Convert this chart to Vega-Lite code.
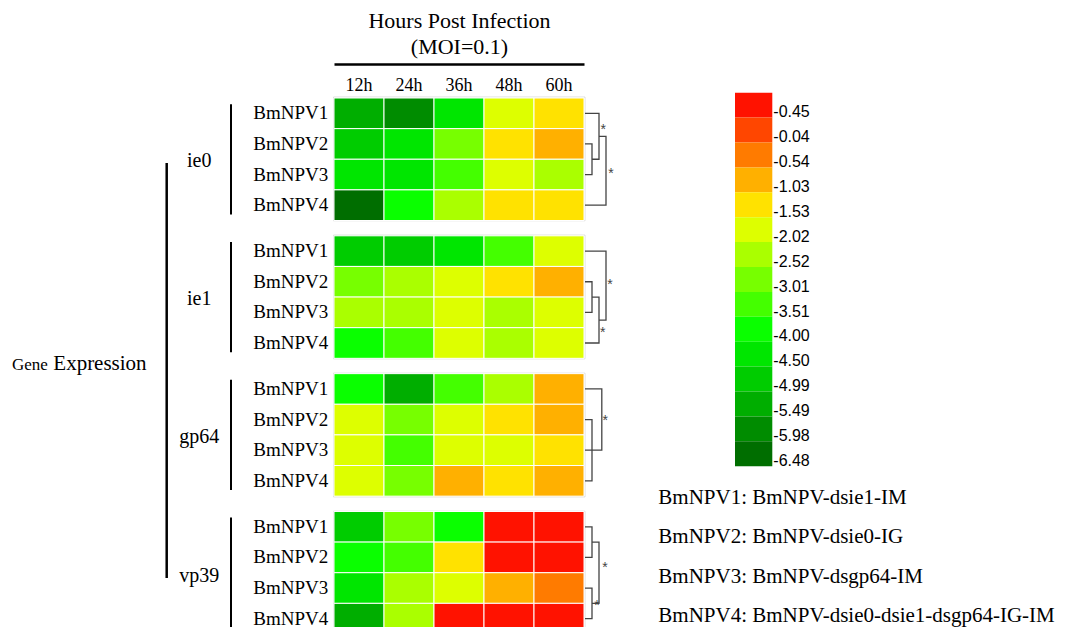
{
  "$schema": "https://vega.github.io/schema/vega-lite/v6.json",
  "autosize": {"type": "none"},
  "width": 250,
  "height": 529,
  "padding": {"left": 334, "top": 98, "right": 487, "bottom": 0},
  "background": "white",
  "config": {"view": {"stroke": null}, "font": "Liberation Serif", "axis": {"labelColor": "black", "titleColor": "black"}},
  "datasets": {
    "cells": [
      {"gene": "ie0", "strain": "BmNPV1", "hour": "12h", "level": "-5.49"},
      {"gene": "ie0", "strain": "BmNPV1", "hour": "24h", "level": "-5.98"},
      {"gene": "ie0", "strain": "BmNPV1", "hour": "36h", "level": "-4.50"},
      {"gene": "ie0", "strain": "BmNPV1", "hour": "48h", "level": "-2.02"},
      {"gene": "ie0", "strain": "BmNPV1", "hour": "60h", "level": "-1.53"},
      {"gene": "ie0", "strain": "BmNPV2", "hour": "12h", "level": "-4.99"},
      {"gene": "ie0", "strain": "BmNPV2", "hour": "24h", "level": "-4.50"},
      {"gene": "ie0", "strain": "BmNPV2", "hour": "36h", "level": "-3.01"},
      {"gene": "ie0", "strain": "BmNPV2", "hour": "48h", "level": "-1.53"},
      {"gene": "ie0", "strain": "BmNPV2", "hour": "60h", "level": "-1.03"},
      {"gene": "ie0", "strain": "BmNPV3", "hour": "12h", "level": "-4.50"},
      {"gene": "ie0", "strain": "BmNPV3", "hour": "24h", "level": "-4.50"},
      {"gene": "ie0", "strain": "BmNPV3", "hour": "36h", "level": "-3.51"},
      {"gene": "ie0", "strain": "BmNPV3", "hour": "48h", "level": "-2.02"},
      {"gene": "ie0", "strain": "BmNPV3", "hour": "60h", "level": "-2.52"},
      {"gene": "ie0", "strain": "BmNPV4", "hour": "12h", "level": "-6.48"},
      {"gene": "ie0", "strain": "BmNPV4", "hour": "24h", "level": "-4.00"},
      {"gene": "ie0", "strain": "BmNPV4", "hour": "36h", "level": "-2.52"},
      {"gene": "ie0", "strain": "BmNPV4", "hour": "48h", "level": "-1.53"},
      {"gene": "ie0", "strain": "BmNPV4", "hour": "60h", "level": "-1.53"},
      {"gene": "ie1", "strain": "BmNPV1", "hour": "12h", "level": "-4.99"},
      {"gene": "ie1", "strain": "BmNPV1", "hour": "24h", "level": "-4.99"},
      {"gene": "ie1", "strain": "BmNPV1", "hour": "36h", "level": "-4.50"},
      {"gene": "ie1", "strain": "BmNPV1", "hour": "48h", "level": "-3.51"},
      {"gene": "ie1", "strain": "BmNPV1", "hour": "60h", "level": "-2.02"},
      {"gene": "ie1", "strain": "BmNPV2", "hour": "12h", "level": "-3.01"},
      {"gene": "ie1", "strain": "BmNPV2", "hour": "24h", "level": "-2.52"},
      {"gene": "ie1", "strain": "BmNPV2", "hour": "36h", "level": "-2.02"},
      {"gene": "ie1", "strain": "BmNPV2", "hour": "48h", "level": "-1.53"},
      {"gene": "ie1", "strain": "BmNPV2", "hour": "60h", "level": "-1.03"},
      {"gene": "ie1", "strain": "BmNPV3", "hour": "12h", "level": "-2.52"},
      {"gene": "ie1", "strain": "BmNPV3", "hour": "24h", "level": "-2.52"},
      {"gene": "ie1", "strain": "BmNPV3", "hour": "36h", "level": "-2.02"},
      {"gene": "ie1", "strain": "BmNPV3", "hour": "48h", "level": "-2.52"},
      {"gene": "ie1", "strain": "BmNPV3", "hour": "60h", "level": "-2.02"},
      {"gene": "ie1", "strain": "BmNPV4", "hour": "12h", "level": "-4.00"},
      {"gene": "ie1", "strain": "BmNPV4", "hour": "24h", "level": "-3.51"},
      {"gene": "ie1", "strain": "BmNPV4", "hour": "36h", "level": "-2.02"},
      {"gene": "ie1", "strain": "BmNPV4", "hour": "48h", "level": "-2.52"},
      {"gene": "ie1", "strain": "BmNPV4", "hour": "60h", "level": "-2.02"},
      {"gene": "gp64", "strain": "BmNPV1", "hour": "12h", "level": "-4.00"},
      {"gene": "gp64", "strain": "BmNPV1", "hour": "24h", "level": "-5.49"},
      {"gene": "gp64", "strain": "BmNPV1", "hour": "36h", "level": "-3.51"},
      {"gene": "gp64", "strain": "BmNPV1", "hour": "48h", "level": "-2.52"},
      {"gene": "gp64", "strain": "BmNPV1", "hour": "60h", "level": "-1.03"},
      {"gene": "gp64", "strain": "BmNPV2", "hour": "12h", "level": "-2.02"},
      {"gene": "gp64", "strain": "BmNPV2", "hour": "24h", "level": "-3.01"},
      {"gene": "gp64", "strain": "BmNPV2", "hour": "36h", "level": "-2.02"},
      {"gene": "gp64", "strain": "BmNPV2", "hour": "48h", "level": "-1.53"},
      {"gene": "gp64", "strain": "BmNPV2", "hour": "60h", "level": "-1.03"},
      {"gene": "gp64", "strain": "BmNPV3", "hour": "12h", "level": "-2.02"},
      {"gene": "gp64", "strain": "BmNPV3", "hour": "24h", "level": "-3.51"},
      {"gene": "gp64", "strain": "BmNPV3", "hour": "36h", "level": "-2.02"},
      {"gene": "gp64", "strain": "BmNPV3", "hour": "48h", "level": "-2.02"},
      {"gene": "gp64", "strain": "BmNPV3", "hour": "60h", "level": "-1.53"},
      {"gene": "gp64", "strain": "BmNPV4", "hour": "12h", "level": "-2.02"},
      {"gene": "gp64", "strain": "BmNPV4", "hour": "24h", "level": "-3.01"},
      {"gene": "gp64", "strain": "BmNPV4", "hour": "36h", "level": "-1.03"},
      {"gene": "gp64", "strain": "BmNPV4", "hour": "48h", "level": "-1.53"},
      {"gene": "gp64", "strain": "BmNPV4", "hour": "60h", "level": "-1.03"},
      {"gene": "vp39", "strain": "BmNPV1", "hour": "12h", "level": "-4.99"},
      {"gene": "vp39", "strain": "BmNPV1", "hour": "24h", "level": "-3.01"},
      {"gene": "vp39", "strain": "BmNPV1", "hour": "36h", "level": "-4.00"},
      {"gene": "vp39", "strain": "BmNPV1", "hour": "48h", "level": "-0.45"},
      {"gene": "vp39", "strain": "BmNPV1", "hour": "60h", "level": "-0.45"},
      {"gene": "vp39", "strain": "BmNPV2", "hour": "12h", "level": "-4.00"},
      {"gene": "vp39", "strain": "BmNPV2", "hour": "24h", "level": "-3.51"},
      {"gene": "vp39", "strain": "BmNPV2", "hour": "36h", "level": "-1.53"},
      {"gene": "vp39", "strain": "BmNPV2", "hour": "48h", "level": "-0.45"},
      {"gene": "vp39", "strain": "BmNPV2", "hour": "60h", "level": "-0.45"},
      {"gene": "vp39", "strain": "BmNPV3", "hour": "12h", "level": "-4.50"},
      {"gene": "vp39", "strain": "BmNPV3", "hour": "24h", "level": "-2.52"},
      {"gene": "vp39", "strain": "BmNPV3", "hour": "36h", "level": "-2.02"},
      {"gene": "vp39", "strain": "BmNPV3", "hour": "48h", "level": "-1.03"},
      {"gene": "vp39", "strain": "BmNPV3", "hour": "60h", "level": "-0.54"},
      {"gene": "vp39", "strain": "BmNPV4", "hour": "12h", "level": "-5.49"},
      {"gene": "vp39", "strain": "BmNPV4", "hour": "24h", "level": "-2.52"},
      {"gene": "vp39", "strain": "BmNPV4", "hour": "36h", "level": "-0.45"},
      {"gene": "vp39", "strain": "BmNPV4", "hour": "48h", "level": "-0.45"},
      {"gene": "vp39", "strain": "BmNPV4", "hour": "60h", "level": "-0.45"}
    ],
    "levels": [
      {"level": "-0.45"}, {"level": "-0.04"}, {"level": "-0.54"}, {"level": "-1.03"}, {"level": "-1.53"},
      {"level": "-2.02"}, {"level": "-2.52"}, {"level": "-3.01"}, {"level": "-3.51"}, {"level": "-4.00"},
      {"level": "-4.50"}, {"level": "-4.99"}, {"level": "-5.49"}, {"level": "-5.98"}, {"level": "-6.48"}
    ],
    "genes": [{"gene": "ie0"}, {"gene": "ie1"}, {"gene": "gp64"}, {"gene": "vp39"}],
    "dendro": [
      {"gene": "ie0", "seg": "ie0a", "ord": 1, "h": 0, "pos": 1.5},
      {"gene": "ie0", "seg": "ie0a", "ord": 2, "h": 1, "pos": 1.5},
      {"gene": "ie0", "seg": "ie0a", "ord": 3, "h": 1, "pos": 2.5},
      {"gene": "ie0", "seg": "ie0a", "ord": 4, "h": 0, "pos": 2.5},
      {"gene": "ie0", "seg": "ie0b", "ord": 1, "h": 0, "pos": 0.5},
      {"gene": "ie0", "seg": "ie0b", "ord": 2, "h": 2, "pos": 0.5},
      {"gene": "ie0", "seg": "ie0b", "ord": 3, "h": 2, "pos": 2.0},
      {"gene": "ie0", "seg": "ie0b", "ord": 4, "h": 1, "pos": 2.0},
      {"gene": "ie0", "seg": "ie0c", "ord": 1, "h": 2, "pos": 1.25},
      {"gene": "ie0", "seg": "ie0c", "ord": 2, "h": 3, "pos": 1.25},
      {"gene": "ie0", "seg": "ie0c", "ord": 3, "h": 3, "pos": 3.5},
      {"gene": "ie0", "seg": "ie0c", "ord": 4, "h": 0, "pos": 3.5},
      {"gene": "ie1", "seg": "ie1a", "ord": 1, "h": 0, "pos": 1.5},
      {"gene": "ie1", "seg": "ie1a", "ord": 2, "h": 1, "pos": 1.5},
      {"gene": "ie1", "seg": "ie1a", "ord": 3, "h": 1, "pos": 2.5},
      {"gene": "ie1", "seg": "ie1a", "ord": 4, "h": 0, "pos": 2.5},
      {"gene": "ie1", "seg": "ie1b", "ord": 1, "h": 1, "pos": 2.0},
      {"gene": "ie1", "seg": "ie1b", "ord": 2, "h": 2, "pos": 2.0},
      {"gene": "ie1", "seg": "ie1b", "ord": 3, "h": 2, "pos": 3.5},
      {"gene": "ie1", "seg": "ie1b", "ord": 4, "h": 0, "pos": 3.5},
      {"gene": "ie1", "seg": "ie1c", "ord": 1, "h": 0, "pos": 0.5},
      {"gene": "ie1", "seg": "ie1c", "ord": 2, "h": 3, "pos": 0.5},
      {"gene": "ie1", "seg": "ie1c", "ord": 3, "h": 3, "pos": 2.75},
      {"gene": "ie1", "seg": "ie1c", "ord": 4, "h": 2, "pos": 2.75},
      {"gene": "gp64", "seg": "gp64a", "ord": 1, "h": 0, "pos": 1.5},
      {"gene": "gp64", "seg": "gp64a", "ord": 2, "h": 1, "pos": 1.5},
      {"gene": "gp64", "seg": "gp64a", "ord": 3, "h": 1, "pos": 3.5},
      {"gene": "gp64", "seg": "gp64a", "ord": 4, "h": 0, "pos": 3.5},
      {"gene": "gp64", "seg": "gp64b", "ord": 1, "h": 0, "pos": 0.5},
      {"gene": "gp64", "seg": "gp64b", "ord": 2, "h": 2.4, "pos": 0.5},
      {"gene": "gp64", "seg": "gp64b", "ord": 3, "h": 2.4, "pos": 2.5},
      {"gene": "gp64", "seg": "gp64b", "ord": 4, "h": 0, "pos": 2.5},
      {"gene": "vp39", "seg": "vp39a", "ord": 1, "h": 0, "pos": 0.5},
      {"gene": "vp39", "seg": "vp39a", "ord": 2, "h": 1, "pos": 0.5},
      {"gene": "vp39", "seg": "vp39a", "ord": 3, "h": 1, "pos": 1.5},
      {"gene": "vp39", "seg": "vp39a", "ord": 4, "h": 0, "pos": 1.5},
      {"gene": "vp39", "seg": "vp39b", "ord": 1, "h": 0, "pos": 2.5},
      {"gene": "vp39", "seg": "vp39b", "ord": 2, "h": 1, "pos": 2.5},
      {"gene": "vp39", "seg": "vp39b", "ord": 3, "h": 1, "pos": 3.5},
      {"gene": "vp39", "seg": "vp39b", "ord": 4, "h": 0, "pos": 3.5},
      {"gene": "vp39", "seg": "vp39c", "ord": 1, "h": 1, "pos": 1.0},
      {"gene": "vp39", "seg": "vp39c", "ord": 2, "h": 2, "pos": 1.0},
      {"gene": "vp39", "seg": "vp39c", "ord": 3, "h": 2, "pos": 3.0},
      {"gene": "vp39", "seg": "vp39c", "ord": 4, "h": 1, "pos": 3.0}
    ],
    "stars": [
      {"gene": "ie0", "h": 2.6, "pos": 0.9},
      {"gene": "ie0", "h": 3.7, "pos": 2.35},
      {"gene": "ie1", "h": 3.57, "pos": 1.46},
      {"gene": "ie1", "h": 2.53, "pos": 3.03},
      {"gene": "gp64", "h": 2.9, "pos": 1.4},
      {"gene": "vp39", "h": 2.86, "pos": 1.73},
      {"gene": "vp39", "h": 1.71, "pos": 2.97}
    ],
    "key": [
      {"strain": "BmNPV1", "desc": "BmNPV1: BmNPV-dsie1-IM"},
      {"strain": "BmNPV2", "desc": "BmNPV2: BmNPV-dsie0-IG"},
      {"strain": "BmNPV3", "desc": "BmNPV3: BmNPV-dsgp64-IM"},
      {"strain": "BmNPV4", "desc": "BmNPV4: BmNPV-dsie0-dsie1-dsgp64-IG-IM"}
    ],
    "words": [{"word": "Gene"}, {"word": "Expression"}]
  },
  "resolve": {
    "scale": {"x": "independent", "y": "independent", "yOffset": "independent", "size": "independent"},
    "axis": {"x": "independent", "y": "independent"}
  },
  "layer": [
    {
      "data": {"name": "genes"},
      "mark": {"type": "rect", "filled": false, "stroke": "#dddddd", "strokeWidth": 1},
      "encoding": {
        "x": {"datum": 0, "type": "quantitative", "scale": {"domain": [0, 1], "range": [-0.5, 251]}, "axis": null},
        "x2": {"datum": 1},
        "y": {"field": "gene", "type": "nominal", "scale": {"domain": ["ie0", "ie1", "gp64", "vp39"], "range": [-1, 537], "paddingInner": 0.1035, "paddingOuter": 0}, "axis": null}
      }
    },
    {
      "data": {"name": "cells"},
      "mark": {"type": "rect", "stroke": "white", "strokeWidth": 1},
      "encoding": {
        "x": {
          "field": "hour", "type": "nominal",
          "scale": {"domain": ["12h", "24h", "36h", "48h", "60h"], "paddingInner": 0, "paddingOuter": 0},
          "axis": {
            "orient": "top", "offset": 34, "domain": true, "domainColor": "black", "domainWidth": 2.5,
            "ticks": false, "tickSize": 0, "labelAngle": 0, "labelPadding": -26.7, "labelBaseline": "alphabetic",
            "labelFont": "Liberation Serif", "labelFontSize": 18,
            "title": ["Hours Post Infection", "(MOI=0.1)"], "titleFont": "Liberation Serif", "titleFontSize": 22,
            "titleFontWeight": "normal", "titleLineHeight": 26, "titlePadding": 6
          }
        },
        "y": {"field": "gene", "type": "nominal", "scale": {"domain": ["ie0", "ie1", "gp64", "vp39"], "range": [0, 536], "paddingInner": 0.111, "paddingOuter": 0}, "axis": null},
        "yOffset": {"field": "strain", "type": "nominal", "scale": {"domain": ["BmNPV1", "BmNPV2", "BmNPV3", "BmNPV4"], "range": [0, 122.5], "paddingInner": 0, "paddingOuter": 0}},
        "color": {
          "field": "level", "type": "ordinal",
          "scale": {
            "domain": ["-0.45", "-0.04", "-0.54", "-1.03", "-1.53", "-2.02", "-2.52", "-3.01", "-3.51", "-4.00", "-4.50", "-4.99", "-5.49", "-5.98", "-6.48"],
            "range": ["#ff1200", "#ff4600", "#ff7b00", "#ffb000", "#ffe200", "#ddff00", "#aaff00", "#77ff00", "#44ff00", "#0aff00", "#00e600", "#00cc00", "#00ae00", "#008c00", "#006e00"]
          },
          "legend": null
        }
      }
    },
    {
      "data": {"name": "levels"},
      "mark": {"type": "rect"},
      "encoding": {
        "x": {"datum": 0, "type": "quantitative", "scale": {"domain": [0, 1], "range": [401, 438.3]}, "axis": null},
        "x2": {"datum": 1},
        "y": {"field": "level", "type": "nominal", "scale": {"domain": ["-0.45", "-0.04", "-0.54", "-1.03", "-1.53", "-2.02", "-2.52", "-3.01", "-3.51", "-4.00", "-4.50", "-4.99", "-5.49", "-5.98", "-6.48"], "range": [-5.3, 368.2], "paddingInner": 0, "paddingOuter": 0}, "axis": null},
        "color": {"field": "level", "type": "ordinal", "legend": null}
      }
    },
    {
      "data": {"name": "levels"},
      "mark": {"type": "text", "align": "left", "baseline": "middle", "font": "Liberation Sans", "fontSize": 16, "color": "black"},
      "encoding": {
        "x": {"datum": 0, "type": "quantitative", "scale": {"domain": [0, 1], "range": [439.3, 440.3]}, "axis": null},
        "y": {"field": "level", "type": "nominal", "scale": {"type": "point", "domain": ["-0.45", "-0.04", "-0.54", "-1.03", "-1.53", "-2.02", "-2.52", "-3.01", "-3.51", "-4.00", "-4.50", "-4.99", "-5.49", "-5.98", "-6.48"], "range": [14.3, 362.9], "padding": 0}, "axis": null},
        "text": {"field": "level"}
      }
    },
    {
      "data": {"name": "cells"},
      "transform": [{"filter": {"field": "hour", "equal": "12h"}}],
      "mark": {"type": "text", "align": "right", "baseline": "middle", "font": "Liberation Serif", "fontSize": 19, "color": "black"},
      "encoding": {
        "x": {"datum": 0, "type": "quantitative", "scale": {"domain": [0, 1], "range": [-5.7, -4.7]}, "axis": null},
        "y": {"field": "gene", "type": "nominal", "bandPosition": 0, "scale": {"domain": ["ie0", "ie1", "gp64", "vp39"], "range": [0, 536], "paddingInner": 0.111, "paddingOuter": 0}, "axis": null},
        "yOffset": {"field": "strain", "type": "nominal", "scale": {"type": "point", "domain": ["BmNPV1", "BmNPV2", "BmNPV3", "BmNPV4"], "range": [15.3, 107.2], "padding": 0}},
        "text": {"field": "strain"}
      }
    },
    {
      "data": {"name": "genes"},
      "mark": {"type": "bar", "color": "black", "height": {"band": 0.9}},
      "encoding": {
        "x": {"datum": "bracket", "type": "nominal", "scale": {"domain": ["bracket"], "range": [-104, -102], "paddingInner": 0, "paddingOuter": 0}, "axis": null},
        "y": {"field": "gene", "type": "nominal", "scale": {"domain": ["ie0", "ie1", "gp64", "vp39"], "range": [0, 536], "paddingInner": 0.111, "paddingOuter": 0}, "axis": null}
      }
    },
    {
      "data": {"values": [{"first": "ie0", "last": "vp39"}]},
      "mark": {"type": "rule", "color": "black", "strokeWidth": 2.5},
      "encoding": {
        "x": {"datum": 0, "type": "quantitative", "scale": {"domain": [0, 1], "range": [-167.3, -166.3]}, "axis": null},
        "y": {
          "field": "first", "type": "nominal",
          "scale": {"type": "point", "domain": ["ie0", "ie1", "gp64", "vp39"], "range": [65, 480], "padding": 0},
          "axis": {
            "orient": "left", "offset": 135.3, "domain": false, "ticks": false, "tickSize": 0, "labelPadding": 0,
            "labelAlign": "center", "labelBaseline": "middle", "labelOffset": -3, "labelFont": "Liberation Serif", "labelFontSize": 20,
            "title": null
          }
        },
        "y2": {"field": "last"}
      }
    },
    {
      "data": {"name": "dendro"},
      "mark": {"type": "line", "color": "#444444", "strokeWidth": 1.3, "interpolate": "linear"},
      "encoding": {
        "x": {"field": "h", "type": "quantitative", "scale": {"domain": [0, 3], "range": [251, 272]}, "axis": null},
        "y": {"field": "gene", "type": "nominal", "bandPosition": 0, "scale": {"domain": ["ie0", "ie1", "gp64", "vp39"], "range": [0, 536], "paddingInner": 0.111, "paddingOuter": 0}, "axis": null},
        "yOffset": {"field": "pos", "type": "quantitative", "scale": {"domain": [0, 4], "range": [0, 122.5]}},
        "detail": {"field": "seg"},
        "order": {"field": "ord"}
      }
    },
    {
      "data": {"name": "stars"},
      "mark": {"type": "text", "text": "*", "font": "Liberation Sans", "fontSize": 14, "color": "#444444", "baseline": "middle", "align": "center", "dy": 4},
      "encoding": {
        "x": {"field": "h", "type": "quantitative", "scale": {"domain": [0, 3], "range": [251, 272]}, "axis": null},
        "y": {"field": "gene", "type": "nominal", "bandPosition": 0, "scale": {"domain": ["ie0", "ie1", "gp64", "vp39"], "range": [0, 536], "paddingInner": 0.111, "paddingOuter": 0}, "axis": null},
        "yOffset": {"field": "pos", "type": "quantitative", "scale": {"domain": [0, 4], "range": [0, 122.5]}}
      }
    },
    {
      "data": {"name": "key"},
      "mark": {"type": "text", "align": "left", "baseline": "middle", "font": "Liberation Serif", "fontSize": 21, "color": "black"},
      "encoding": {
        "x": {"datum": 0, "type": "quantitative", "scale": {"domain": [0, 1], "range": [324.3, 325.3]}, "axis": null},
        "y": {"field": "strain", "type": "nominal", "scale": {"type": "point", "domain": ["BmNPV1", "BmNPV2", "BmNPV3", "BmNPV4"], "range": [400, 518], "padding": 0}, "axis": null},
        "text": {"field": "desc"}
      }
    },
    {
      "data": {"name": "words"},
      "mark": {"type": "text", "align": "left", "baseline": "alphabetic", "font": "Liberation Serif", "color": "black"},
      "encoding": {
        "x": {"field": "word", "type": "nominal", "scale": {"type": "point", "domain": ["Gene", "Expression"], "range": [-322, -280.7], "padding": 0}, "axis": null},
        "y": {"field": "word", "type": "nominal", "scale": {"type": "point", "domain": ["Gene", "Expression"], "range": [272, 272], "padding": 0}, "axis": null},
        "size": {"field": "word", "type": "ordinal", "scale": {"domain": ["Gene", "Expression"], "range": [17, 21]}, "legend": null},
        "text": {"field": "word"}
      }
    }
  ]
}
